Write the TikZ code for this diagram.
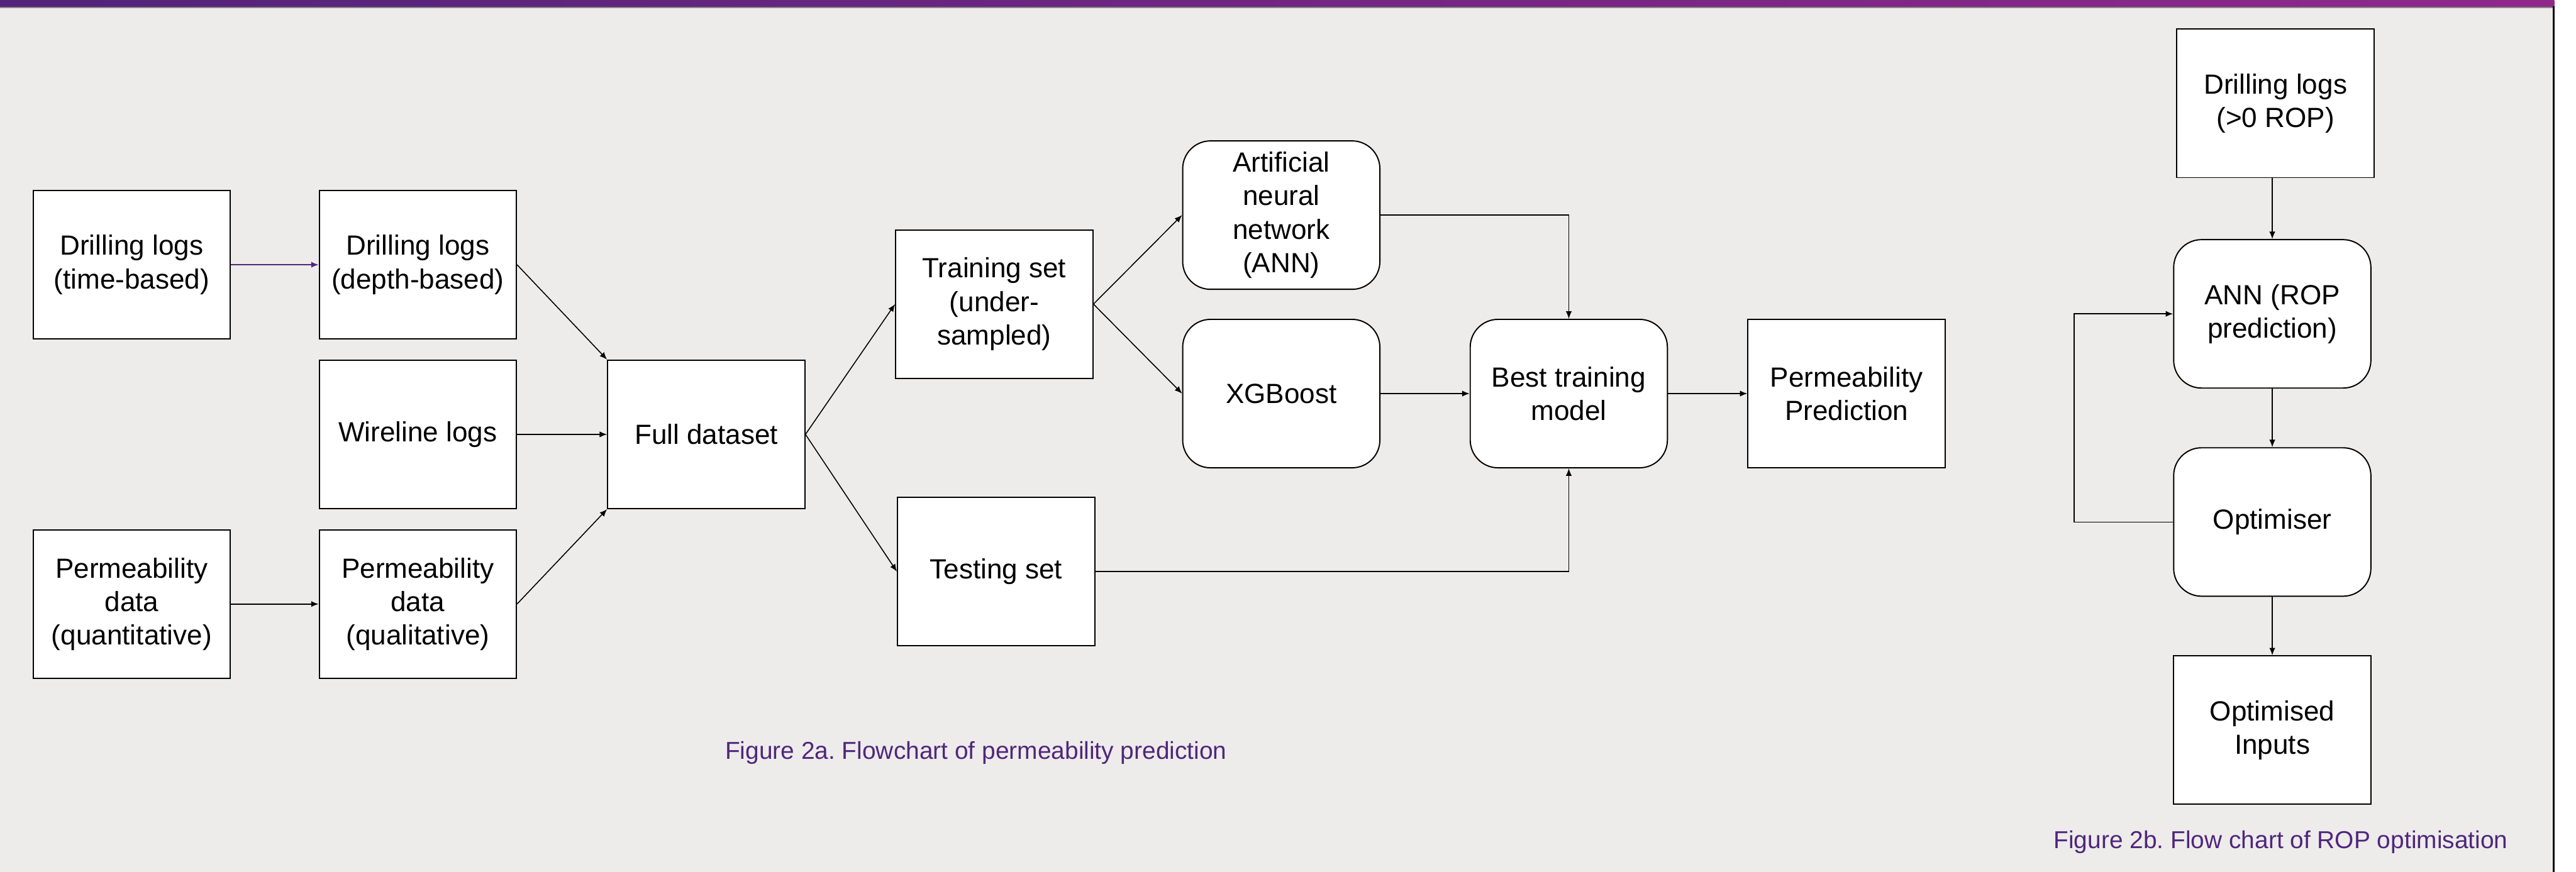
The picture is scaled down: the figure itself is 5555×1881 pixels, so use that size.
\documentclass[tikz,border=0pt]{standalone}
\usepackage{fontspec}
\setmainfont{Liberation Sans}
\usetikzlibrary{arrows.meta,shadings}
\definecolor{bg}{RGB}{237,236,234}
\definecolor{barL}{RGB}{82,36,122}
\definecolor{barR}{RGB}{143,41,137}
\definecolor{capc}{RGB}{80,38,125}
\definecolor{arrp}{RGB}{80,38,125}
\frenchspacing
\begin{document}
\begin{tikzpicture}[x=0.01cm,y=-0.01cm,
  box/.style={draw=black, line width=0.75pt, fill=white, minimum width=4.25cm, minimum height=3.2cm, inner sep=0pt, align=center, font=\fontsize{17pt}{20.5pt}\selectfont},
  rbox/.style={box, rounded corners=0.6cm},
  arr/.style={-{Latex[length=0.16cm,width=0.13cm]}, line width=0.6pt},
  captext/.style={text=capc, font=\fontsize{15pt}{18pt}\selectfont, anchor=base west, inner sep=0pt}]
\useasboundingbox (0,0) rectangle (5555,1881);
\fill[white] (0,0) rectangle (5555,1881);
\fill[bg] (0,0) rectangle (5506,1881);
\shade[left color=barL, right color=barR] (0,0) rectangle (5508,15);
\fill[gray!90] (0,15) rectangle (5506,17);
\fill[black] (5505,14) rectangle (5509,1881);

% Figure 2a
\node[box] (tb) at (284,571) {Drilling logs\\(time-based)};
\node[box] (db) at (901,571) {Drilling logs\\(depth-based)};
\node[box] (wl) at (901,937) {Wireline logs};
\node[box] (pq) at (284,1303) {Permeability\\data\\(quantitative)};
\node[box] (pl) at (901,1303) {Permeability\\data\\(qualitative)};
\node[box] (fd) at (1523,937) {Full dataset};
\node[box] (tr) at (2144,656) {Training set\\(under-\\sampled)};
\node[box] (te) at (2148,1233) {Testing set};
\node[rbox] (ann) at (2763,464) {Artificial\\neural\\network\\(ANN)};
\node[rbox] (xgb) at (2763,849) {XGBoost};
\node[rbox] (best) at (3383,849) {Best training\\model};
\node[box] (pp) at (3982,849) {Permeability\\Prediction};

\draw[arr, draw=arrp, -{Latex[length=0.16cm,width=0.13cm,fill=arrp]}] (tb.east) -- (db.west);
\draw[arr] (pq.east) -- (pl.west);
\draw[arr] (db.east) -- (fd.north west);
\draw[arr] (wl.east) -- (fd.west);
\draw[arr] (pl.east) -- (fd.south west);
\draw[arr] (fd.east) -- (tr.west);
\draw[arr] (fd.east) -- (te.west);
\draw[arr] (tr.east) -- (ann.west);
\draw[arr] (tr.east) -- (xgb.west);
\draw[arr] (ann.east) -| (best.north);
\draw[arr] (xgb.east) -- (best.west);
\draw[arr] (te.east) -| (best.south);
\draw[arr] (best.east) -- (pp.west);

\node[captext] (capa) at (1563,1638) {Figure 2a. Flowchart of permeability prediction};

% Figure 2b
\node[box] (dr) at (4907,223) {Drilling logs\\(>0 ROP)};
\node[rbox] (annr) at (4900,677) {ANN (ROP\\prediction)};
\node[rbox] (opt) at (4900,1126) {Optimiser};
\node[box] (oi) at (4900,1575) {Optimised\\Inputs};
\coordinate (loopx) at (4473,900);

\draw[arr] (annr.north |- dr.south) -- (annr.north);
\draw[arr] (annr.south) -- (opt.north);
\draw[arr] (opt.south) -- (oi.north);
\draw[arr] (opt.west) -- (opt.west -| loopx) |- (annr.west);

\node[captext] (capb) at (4428,1830) {Figure 2b. Flow chart of ROP optimisation};
\end{tikzpicture}
\end{document}
